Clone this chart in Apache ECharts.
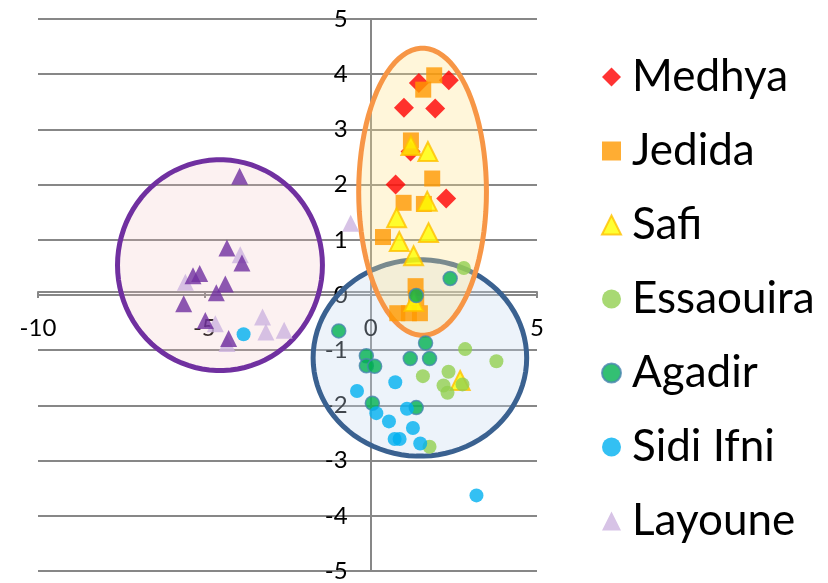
<!DOCTYPE html>
<html>
<head>
<meta charset="utf-8">
<script src="https://cdn.jsdelivr.net/npm/echarts@6/dist/echarts.min.js"></script>
<style>
  html, body { margin: 0; padding: 0; background: #fff; }
  #main { width: 828px; height: 583px; }
</style>
</head>
<body>
<div id="main"></div>
<script>
// points [x, y] per site
var medhya = [[1.45, 3.84], [2.35, 3.89], [1.0, 3.39], [1.94, 3.38], [1.2, 2.6], [0.75, 2.0], [2.27, 1.75]];
var jedida = [[1.91, 3.98], [1.58, 3.72], [1.21, 2.8], [1.85, 2.11], [0.99, 1.67], [1.6, 1.65], [0.37, 1.05],
              [1.35, 0.16], [1.37, -0.05], [0.8, -0.33], [1.15, -0.33], [1.48, -0.33]];
var safi = [[1.21, 2.71], [1.72, 2.6], [1.7, 1.7], [0.78, 1.4], [1.74, 1.13], [0.86, 0.97], [1.29, 0.71],
            [1.3, -0.12], [2.69, -1.55]];
var essaouira = [[2.8, 0.49], [2.84, -0.98], [3.78, -1.2], [2.34, -1.39], [1.57, -1.47], [2.19, -1.64],
                 [2.31, -1.77], [2.76, -1.62], [1.77, -2.75]];
var agadir = [[2.39, 0.3], [1.37, -0.01], [-0.96, -0.65], [1.65, -0.87], [-0.13, -1.1], [1.19, -1.15],
              [1.77, -1.15], [-0.13, -1.28], [0.12, -1.29], [0.05, -1.96], [1.37, -2.04]];
var sidiIfni = [[0.74, -1.58], [-0.41, -1.74], [0.17, -2.14], [0.55, -2.29], [1.09, -2.06], [1.27, -2.41],
                [0.72, -2.61], [0.87, -2.61], [1.49, -2.69], [3.18, -3.63], [-3.82, -0.71]];
var layoune = [[-0.6, 1.3], [-3.92, 0.73], [-5.57, 0.23], [-4.67, -0.52], [-3.25, -0.4], [-3.15, -0.67],
               [-2.6, -0.64], [-4.32, -0.88]];
var layouneDark = [[-3.94, 2.15], [-4.32, 0.85], [-3.87, 0.58], [-5.34, 0.35], [-5.14, 0.39], [-4.37, 0.2],
                   [-4.64, 0.04], [-5.62, -0.16], [-4.97, -0.46], [-4.27, -0.79]];

// group outlines [cx, cy, rx, ry]
var groups = [[-4.53, 0.54, 3.08, 1.91], [1.48, -1.14, 3.21, 1.78], [1.56, 1.87, 1.92, 2.6]];
var groupStroke = ['#7030A0', '#3A6190', '#F79646'];
var groupFill = ['rgba(240,190,190,0.22)', 'rgba(200,218,240,0.32)', 'rgba(255,226,140,0.32)'];

var names = ['Medhya', 'Jedida', 'Safi', 'Essaouira', 'Agadir', 'Sidi Ifni', 'Layoune'];

function scatter(name, data, symbol, size, style) {
    return {
        name: name,
        type: 'scatter',
        data: data,
        symbol: symbol,
        symbolSize: size,
        itemStyle: style,
        z: 3
    };
}

var gridLeft = 38, gridRight = 291, gridTop = 19, gridBottom = 6;
var gridW = 828 - gridLeft - gridRight, gridH = 583 - gridTop - gridBottom;

var chart = echarts.init(document.getElementById('main'));
chart.setOption({
    animation: false,
    textStyle: {fontFamily: 'Lato'},
    grid: {left: gridLeft, right: gridRight, top: gridTop, bottom: gridBottom},
    legend: {
        data: names,
        orient: 'vertical',
        left: 596,
        top: 50,
        itemWidth: 19,
        itemHeight: 19,
        itemGap: 30,
        textStyle: {fontSize: 44, lineHeight: 44, color: '#000', fontFamily: 'Lato', padding: [0, 0, 0, 6]}
    },
    xAxis: {
        type: 'value',
        min: -10,
        max: 5,
        interval: 5,
        position: 'bottom',
        offset: -gridH / 2,
        axisLine: {onZero: false, lineStyle: {color: '#878787', width: 2}},
        axisTick: {show: true, length: 6, lineStyle: {color: '#878787', width: 2}},
        axisLabel: {fontSize: 24, color: '#000', margin: 24},
        splitLine: {show: false}
    },
    yAxis: {
        type: 'value',
        min: -5,
        max: 5,
        interval: 1,
        position: 'left',
        offset: -gridW * 10 / 15,
        axisLine: {onZero: false, lineStyle: {color: '#878787', width: 2}},
        axisTick: {show: false},
        axisLabel: {fontSize: 24, color: '#000', margin: 23},
        splitLine: {lineStyle: {color: '#878787', width: 2}}
    },
    series: [
        {
            name: 'groups',
            type: 'custom',
            data: groups,
            encode: {x: 0, y: 1},
            clip: false,
            z: 1,
            renderItem: function (params, api) {
                var i = params.dataIndex;
                var cx = api.value(0), cy = api.value(1), rx = api.value(2), ry = api.value(3);
                var pts = [];
                for (var k = 0; k < 90; k++) {
                    var t = k / 90 * Math.PI * 2;
                    pts.push(api.coord([cx + rx * Math.cos(t), cy + ry * Math.sin(t)]));
                }
                return {
                    type: 'polygon',
                    shape: {points: pts},
                    style: {fill: groupFill[i], stroke: groupStroke[i], lineWidth: 5}
                };
            }
        },
        scatter('Medhya', medhya, 'diamond', 20, {color: '#FF0000'}),
        scatter('Jedida', jedida, 'rect', 16, {color: '#FF9900'}),
        scatter('Safi', safi, 'triangle', 19, {color: '#FFFF00', borderColor: '#FFC000', borderWidth: 2}),
        scatter('Essaouira', essaouira, 'circle', 14, {color: '#92D050'}),
        scatter('Agadir', agadir, 'circle', 14, {color: '#00B050', borderColor: '#4A86B0', borderWidth: 1.5}),
        scatter('Sidi Ifni', sidiIfni, 'circle', 14, {color: '#00B0F0'}),
        scatter('Layoune', layoune, 'triangle', 17, {color: '#CDB4E0'}),
        scatter('Layoune 2', layouneDark, 'triangle', 17, {color: '#7030A0'})
    ]
});
</script>
</body>
</html>
